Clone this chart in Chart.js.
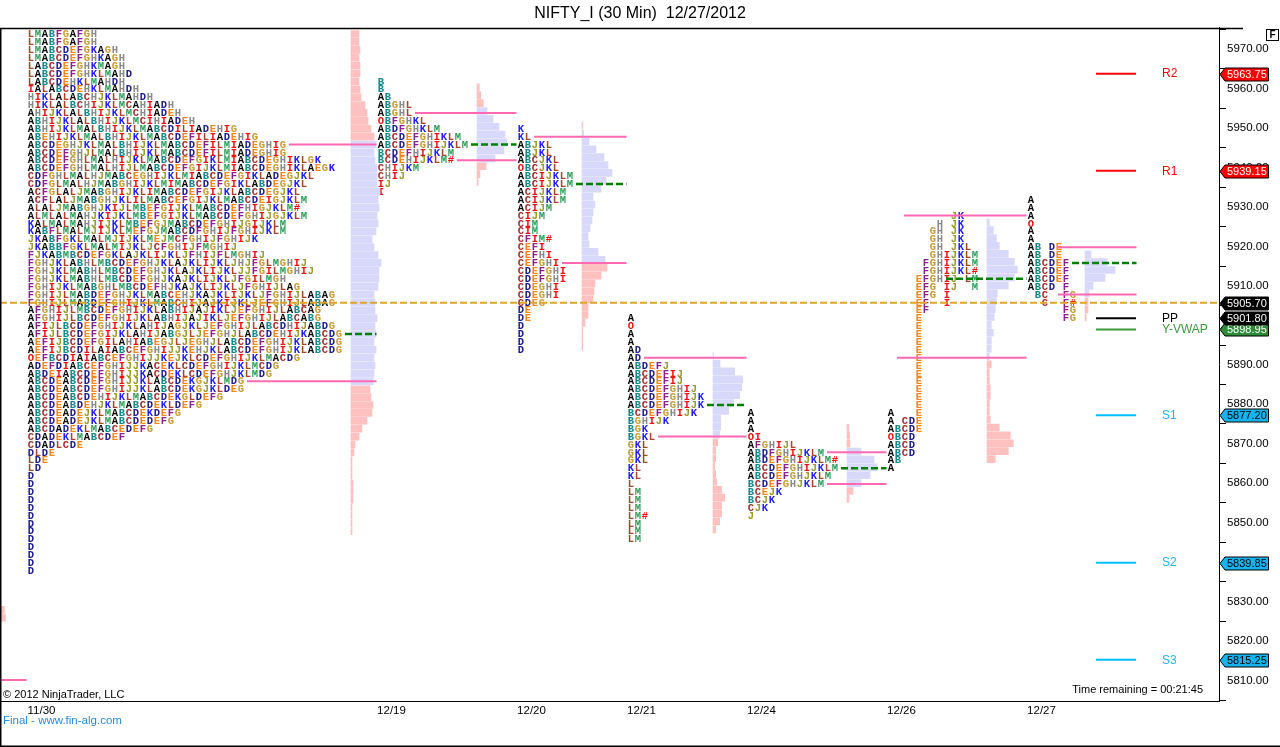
<!DOCTYPE html>
<html><head><meta charset="utf-8">
<script src="https://cdn.jsdelivr.net/npm/chart.js@4.4.1/dist/chart.umd.min.js"></script>
<style>html,body{margin:0;padding:0;background:#fff;overflow:hidden}</style>
</head><body><canvas id="c" width="1280" height="747" style="width:1280px;height:747px;display:block"></canvas>
<script>
// ---------------- DATA ----------------
const sessionLabels = ['11/30','12/19','12/20','12/21','12/24','12/26','12/27'];
const sessionBars   = [4, 39, 53, 64, 76, 90, 104];
const endBar = 115;

// TPO letter rows, top row price per session (2-point rows)
const tpoTop = [5973.8, 5961.8, 5949.8, 5901.8, 5877.8, 5927.8, 5931.8];
const tpo1130 = ['LMABFGAFGH','LMABFGAFGH','LMABCDEFGKAGH','LMABCDEFGHKAGH','LABCDEFGHKMAGH','LABCDEFGHKLMAHD','LABCDEHKLMAHDH','IALABCDEHKLMAHDH','HIKLALABCHJKLMAHDH','HIKLALBCHIJKLMCAHIADH','AHIJKLALBHIJKLMCHIADEH','ABHIJKLALBHIJKLMCIHIADEH','ABHIJKLMALBHIJKLMABCDILIADEHIG','ABEHIJKLMALBHIJKLMABCDEFILIADEHIG','ABCDEGHJKLMALBHIJKLMABCDEFILMIADEGHIG','ABCDEFGHJLMALBHIJKLMABCDEFILMIADEGHIG','ABCDEFGHLMALHIJKLMABCDEFGIKLMIABCDEGHIKLGK','ABCDEFGHLMALHIJLMABCDEFGIJKLMIABCDEGHIKLAEGK','CDFGHLMALHJMABCEGHIJKLMIABCDEFGIKLADEGJKL','CDFGLMALHJMABGHIJKLMIMABCDEFGIKLABDEGJKL','ACFGLALJMABGHIJKLIMABCDEFGIJKLABCDEGJKL','ACFLALJMABGHJKLILMABCEFGIJKLMABCDEIGJKLM','ALALJMABGHJKIJLMBEFGIJKLMABCDEFHIGJKLM#','ALMLALMAHJKIJKLMBEFGIJKLMABCDEFGHIJGJKLM','KALMALMAHJIJKLMBEFGJMABCDEFGHIJGIJKLM','KABFLMALMJIJKLMEFGJMABCDFGHIJFGHIJKLM','JKABFGKLMALMJIJKLMEJMCFGHIJFGHIJK','JKABBFGKLMALMIJKLJCFGHIJFMGHIJ','FJKABMBCDEFGKLAJKLIJKLJFHIJFLMGHIJ','FGHJKLABHLMBCDEFGHJKLAJKLIJKLJHJFGLMGHIJ','FGHJKLMABHLMBCDEFGHJKLAJKLIJKLJJFGILMGHIJ','FGHJKLMABHLMBCDEFGHJKAJKLIJKLJFGILMGH','FGHIJKLMABGHLMBCDEFHJKAJKLIJKLJFGHIJLAG','FGHIJLMABDEFGHJKLMABCEHJKAJKLIJKLJFGHIJLABAG','FGHIJLMABDEFGHIJKLMABCHIJAJKIJKLJEFGHIJLABAG','AFGHIJLMBCDEFGHIJKLABHIJAJIKLJEFGHIJLABCAG','AFGHIJLBCDEFGHIJKLABHIJAJIKLJEFGHIJLABCABG','AFIJLBCDEFGHIJKLAHIJAGJKLJEFGHIJLABCDHIJABDG','AFIJLBCDEFGIJKLAHIJABGJLJEFGHJLABCDEHIJKABCDG','AEFIJBCDEFGILAHIABEGJLJEGHJLABCDEFGHIJKLABCDG','AEFIJBCDILAIABCEFGHIJJKEHJKLABCDEFGHIJKLABCDG','OEFBCDIAIABCEFGHIJJKEJKLCDEFGHIJKLMACDG','ADEFDIABCEFGHIJJKACEKLCDEFGHIJKLMCDG','ABDEIABCDEFGHIJJKACDEKLCDEFGHJKLMDG','ABCDEABCDEFGHIJJKLABCDEKGJKLMDG','ABCDEABCDEFGHIJJKLABCDEKGJKLDEG','ABCDEABCDEHIJKLMABCDEKGLDEFG','ABCDEABDEHJKLMABCDEKLDEFG','ABCDEADEJKLMABCDEKDEFG','ABCDEADEJKLMABCDEDEFG','ABCDADEKLMABCEDEFG','CDADEKLMABCDEF','CDADLCDE','DLDE','LDE','LD','D','D','D','D','D','D','D','D','D','D','D','D','D'];
const tpo1219 = ['B','B','AB','ABGHL','ABGHL','OBFGHKL','ABDFGHKLM','ABCDEFGHIKLM','ABCDEFGHIJKLM','BCDEFHIJKLM','BCDEHIJKLM#','CHIJKM','CHIJ','IJ','I'];
const tpo1220 = ['K','KL','ABJKL','ABJKL','ABCJKL','OBCJKL','ABCIJKLM','ABCIJKLM','ACIJKLM','ACIJKLM','ACIJM','CIJM','CIM','CIM','CFIM#','CEFI','CEFHI','CEFGHI','CDEFGHI','CDEFGHI','CDEGHI','CDEGHI','CDEG','DE','DE','D','D','D','D'];
const tpo1221 = ['A','O','A','A','AD','AD','ABDEFJ','ABCDEFIJ','ABCDEFIJ','ABCDEFGHIJ','ABCDEFGHIJK','ABCDEFGHIJK','BCDEFGHIJK','BGHIJK','BGK','BGKL','GKL','GKL','GKL','KL','KL','L','LM','LM','LM','LM#','LM','LM','LM'];
const tpo1224 = ['A','A','A','OI','AFGHIJL','ABDFGHIJKLM','ABDEFGHIJKLM#','ABCDEFGHIJKLM','ABCDEFGHJKLM','BCDEFGHJKLM','BCEJK','BCJK','CJK','J'];
const tpo1226 = ['         JK','       H JK','      GH JK','      GH JK','      GH JKL','      GHIJKLM','     FGHIJKLM','     FGHIJKL#','    EFGHIJ LM','    EFG IJ  M','    EFG I','    EF  I','    EF','    E','    E','    E','    E','    E','    E','    E','    E','    E','    E','    E','    E','A   E','A CDE','ABCDE','OBCD','ABCD','ABCD','AB','A'];
const tpo1227 = ['A','A','A','O','A','A','AB DE','AB DE','ABCDEF','ABCDEF','ABCDEF','ABCD F',' BC  FG','  C  F#','     FG','     FG'];
const tpoRows = [tpo1130, tpo1219, tpo1220, tpo1221, tpo1224, tpo1226, tpo1227];

// value area high / point of control / value area low per session
const vah = [5945.8, 5953.8, 5947.8, 5891.8, 5867.8, 5927.8, 5919.8];
const poc = [5897.8, 5945.8, 5935.8, 5879.8, 5863.8, 5911.8, 5915.8];
const val = [5885.8, 5941.8, 5915.8, 5871.8, 5859.8, 5891.8, 5907.8];

// volume-at-price histograms (top price, relative volume per 2-point row)
const volTop = [5973.8, 5960.3, 5950.6, 5892.3, 5874.0, 5926.1, 5918.0];
const vol1130 = [8,8,9,8,9,9,8,9,10,14,16,17,20,23,25,23,24,26,26,26,29,27,28,26,27,25,21,23,27,30,28,28,27,23,24,24,26,24,25,23,25,23,24,23,22,19,20,22,21,16,11,8,4,3,1,1,1,2,2,2,1,1,1,1];
const vol1219 = [2.3,3.7,6.3,10,16,22,28,30,27,18,9,3,1];
const vol1220 = [0.7,1.7,7,14,22,26,30,24,19,11,13,11,10,8,6,7,16,23,25,19,13,12,11,6,6,3,0.7,0.7,0.7];
const vol1221 = [0.5,7,21.7,29.7,28.7,26.7,20.7,15.7,7.7,7.7,6.7,4.7,2.7,2.7,1.7,2.7,3.7,8.7,11.7,8.7,8.7,6.7,2.7];
const vol1224 = [1.7,2.7,3,14,27,30,23,14,6,2];
const vol1226 = [2.3,6.3,9.3,12.3,21.3,27.3,30.3,27.3,21.3,10.3,9.3,8.3,7.3,4.3,6.3,4.3,4.3,2.3,4.3,2.3,2.3,3.3,3.3,2.3,2.3,3.3,12.3,23.3,26.3,21.3,8.3];
const vol1227 = [6,22,30,20,8,4,3,3,1];
const vols = [vol1130, vol1219, vol1220, vol1221, vol1224, vol1226, vol1227];

// tail of the previous (off-screen) session
const priorVolTop = 5827.9;
const priorVol = [23, 24];
const priorVA = 5810.1;

const lastPrice = 5905.70;
const pivotNames  = ['R2','R1','PP','Y-VWAP','S1','S2','S3'];
const pivotValues = [5963.75, 5939.15, 5901.80, 5898.95, 5877.20, 5839.85, 5815.25];

// ---------------- LAYOUT / STYLE ----------------
const ROW = 2, CH = 0.7, LETTER_OFF = -1.05, LINE_END_OFF = -1.5, VOL_UNIT = 0.1;
const PRIOR_HIST = -2, PRIOR_LINE0 = -5;
const PIV_X0 = 109.45, PIV_X1 = 113.45, PIV_LABEL = 116.05;
const LETTER_COLORS = {A:'#000000',B:'#138a8a',C:'#a52a2a',D:'#1c1c8c',E:'#f7861c',F:'#8b218b',G:'#c99a2e',H:'#8a8a8a',I:'#f01010',J:'#9c9c2c',K:'#1a1aff',L:'#a8442a',M:'#2e9e5a',O:'#f01010','#':'#f01010'};
const PINK_BAR = '#ffc0c0', LAV_BAR = '#d8d8fa', VA_LINE = '#ff69b4', POC_LINE = '#008000', LAST_LINE = '#e0a42a';
const PIV_COL = {R2:'#ff0000',R1:'#ff0000',PP:'#000000','Y-VWAP':'#3a983a',S1:'#00bfff',S2:'#00bfff',S3:'#00bfff'};
const PIV_TXT = {R2:'#ff0000',R1:'#ff0000',PP:'#000000','Y-VWAP':'#3a9a3a',S1:'#1eb4f5',S2:'#1eb4f5',S3:'#1eb4f5'};
const TAG_FILL = {R2:'#ff0000',R1:'#ff0000',PP:'#000000','Y-VWAP':'#2e8b3a',S1:'#14b4f0',S2:'#14b4f0',S3:'#14b4f0'};
const TAG_TEXT = {R2:'#ffffff',R1:'#ffffff',PP:'#ffffff','Y-VWAP':'#ffffff',S1:'#000000',S2:'#000000',S3:'#000000'};

function firstChar(si){ return sessionBars[si] + LETTER_OFF; }
function rowAt(si, price){ const r = Math.round((tpoTop[si]-price)/ROW); return tpoRows[si][r] || ''; }
function lineStart(si, price){ return firstChar(si) + rowAt(si, price).replace(/ /g,'').length*CH - 0.1; }
function lineEnd(si){ return (si+1 < sessionBars.length ? sessionBars[si+1] : endBar) + LINE_END_OFF; }
function histStart(si){ const m = Math.max(...tpoRows[si].map(s=>s.length)); return firstChar(si) + (m+1)*CH - 0.2; }

// ---------------- DATASETS ----------------
const datasets = [];
vols.forEach((arr, si) => {
  const hs = histStart(si);
  const pts = arr.map((v,i)=>({y: volTop[si]-i*ROW, x:[hs, hs+v*VOL_UNIT]}));
  datasets.push({type:'bar', indexAxis:'y', data:pts, grouped:false, barThickness:7, borderWidth:0, order:10,
    backgroundColor: pts.map(p => (p.y <= vah[si]+1.5 && p.y >= val[si]-1) ? LAV_BAR : PINK_BAR)});
});
datasets.push({type:'bar', indexAxis:'y', grouped:false, barThickness:7, borderWidth:0, order:10, backgroundColor:PINK_BAR,
  data: priorVol.map((v,i)=>({y: priorVolTop-i*ROW, x:[PRIOR_HIST, PRIOR_HIST+v*VOL_UNIT]}))});

function seg(x0,x1,yv,color,width,dash,order){
  return {type:'line', data:[{x:x0,y:yv},{x:x1,y:yv}], borderColor:color, borderWidth:width, borderDash:dash||[],
    pointRadius:0, pointHoverRadius:0, fill:false, tension:0, order:order, borderCapStyle:'butt'};
}
sessionBars.forEach((b, si) => {
  datasets.push(seg(lineStart(si, vah[si]), lineEnd(si), vah[si], VA_LINE, 2, null, 3));
  datasets.push(seg(lineStart(si, val[si]), lineEnd(si), val[si], VA_LINE, 2, null, 3));
  datasets.push(seg(lineStart(si, poc[si]), lineEnd(si), poc[si], POC_LINE, 2.5, [7,3], 2));
});
datasets.push(seg(PRIOR_LINE0, sessionBars[0]+LINE_END_OFF, priorVA, VA_LINE, 2, null, 3));
pivotNames.forEach((n,i)=> datasets.push(seg(PIV_X0, PIV_X1, pivotValues[i], PIV_COL[n], 2, null, 2)));
datasets.push(seg(-0.15, 121.75, lastPrice, LAST_LINE, 2, [7,3], 0));

// ---------------- PLUGINS ----------------
const tpoPlugin = {
  id:'tpo',
  beforeDatasetsDraw(chart){
    const {ctx, chartArea:a, scales:{x,y}} = chart;
    ctx.save();
    ctx.beginPath(); ctx.rect(a.left,a.top,a.right-a.left,a.bottom-a.top); ctx.clip();
    ctx.font = 'bold 10.5px "Liberation Mono",monospace';
    ctx.textAlign='center'; ctx.textBaseline='middle';
    tpoRows.forEach((rows,si)=>{
      const fc = firstChar(si);
      rows.forEach((s,r)=>{
        const py = y.getPixelForValue(tpoTop[si]-r*ROW) + 0.5;
        for (let c=0;c<s.length;c++){
          const ch = s[c]; if (ch===' ') continue;
          ctx.fillStyle = LETTER_COLORS[ch] || '#000';
          ctx.fillText(ch, x.getPixelForValue(fc + c*CH), py);
        }
      });
    });
    ctx.restore();
  }
};

const decoPlugin = {
  id:'deco',
  afterDraw(chart){
    const {ctx, chartArea:a, scales:{x,y}} = chart;
    ctx.save();
    // frame
    ctx.strokeStyle='#000'; ctx.lineWidth=1.5;
    ctx.beginPath();
    ctx.moveTo(0, Math.round(a.top)+0.5); ctx.lineTo(1243, Math.round(a.top)+0.5);
    ctx.moveTo(0.75, a.top); ctx.lineTo(0.75, 747);
    ctx.moveTo(0, 746.25); ctx.lineTo(1280, 746.25);
    ctx.stroke();
    // F box
    ctx.lineWidth=1; ctx.strokeRect(1266.5, 29.5, 12, 11);
    ctx.fillStyle='#000'; ctx.font='bold 10px "Liberation Sans",Arial'; ctx.textAlign='center'; ctx.textBaseline='middle';
    ctx.fillText('F', 1272.5, 35.5);
    // pivot labels
    ctx.font='12px "Liberation Sans",Arial'; ctx.textAlign='left';
    pivotNames.forEach((n,i)=>{ ctx.fillStyle=PIV_TXT[n]; ctx.fillText(n, x.getPixelForValue(PIV_LABEL), y.getPixelForValue(pivotValues[i])+0.5); });
    // texts
    ctx.fillStyle='#000'; ctx.font='11px "Liberation Sans",Arial';
    ctx.fillText('\u00a9 2012 NinjaTrader, LLC', 3, 695);
    ctx.textAlign='right';
    ctx.fillText('Time remaining = 00:21:45', a.right-16, 690);
    ctx.textAlign='left'; ctx.fillStyle='#2a8ad8'; ctx.font='11.5px "Liberation Sans",Arial';
    ctx.fillText('Final - www.fin-alg.com', 3, 721);
    // price tags on axis
    function tag(v, fill, tc){
      const py = Math.round(y.getPixelForValue(v))+0.5, x0 = y.left+1, x1 = y.left+49.5, h=13;
      ctx.beginPath(); ctx.moveTo(x0,py); ctx.lineTo(x0+5,py-h/2); ctx.lineTo(x1,py-h/2); ctx.lineTo(x1,py+h/2); ctx.lineTo(x0+5,py+h/2); ctx.closePath();
      ctx.fillStyle=fill; ctx.fill(); ctx.strokeStyle='#000'; ctx.lineWidth=1; ctx.stroke();
      ctx.fillStyle=tc; ctx.font='11px "Liberation Sans",Arial'; ctx.textAlign='left'; ctx.textBaseline='middle';
      ctx.fillText(v.toFixed(2), x0+7, py+0.5);
    }
    [0,1].forEach(i=>tag(pivotValues[i], TAG_FILL[pivotNames[i]], TAG_TEXT[pivotNames[i]]));
    tag(lastPrice, '#000000', '#ffffff');
    [3,2].forEach(i=>tag(pivotValues[i], TAG_FILL[pivotNames[i]], TAG_TEXT[pivotNames[i]]));
    [4,5,6].forEach(i=>tag(pivotValues[i], TAG_FILL[pivotNames[i]], TAG_TEXT[pivotNames[i]]));
    ctx.restore();
  }
};

Chart.defaults.font.family = '"Liberation Sans", Arial, sans-serif';
Chart.defaults.color = '#000';

new Chart(document.getElementById('c'), {
  type:'bar',
  data:{datasets},
  options:{
    responsive:false, animation:false, devicePixelRatio:1,
    layout:{padding:{left:0,right:0,top:0,bottom:0}},
    plugins:{
      legend:{display:false}, tooltip:{enabled:false},
      title:{display:true, text:'NIFTY_I (30 Min)  12/27/2012', color:'#000',
        font:{size:16, weight:'normal', lineHeight:1.2}, padding:{top:3.5,bottom:5}}
    },
    scales:{
      x:{type:'linear', position:'bottom', min:-0.15, max:121.75, offset:false,
        grid:{display:false, drawTicks:false},
        border:{display:true, color:'#000', width:1},
        afterBuildTicks:(s)=>{ s.ticks = sessionBars.map(v=>({value:v})); },
        afterFit:(s)=>{ s.height = 46; },
        ticks:{autoSkip:false, maxRotation:0, padding:3, color:'#000', font:{size:11.5},
          callback:(v)=>{ const i = sessionBars.indexOf(v); return i>=0 ? sessionLabels[i] : ''; }}
      },
      y:{type:'linear', position:'right', min:5804.8, max:5975.4, offset:false, beginAtZero:false,
        grid:{display:true, drawOnChartArea:false, drawTicks:true, tickLength:7, color:'#000'},
        border:{display:true, color:'#000', width:1},
        afterFit:(s)=>{ s.width = 61; },
        ticks:{stepSize:10, includeBounds:false, padding:1, color:'#000', font:{size:11.5},
          callback:(v)=>Number(v).toFixed(2)}
      }
    }
  },
  plugins:[tpoPlugin, decoPlugin]
});
</script>
</body></html>
